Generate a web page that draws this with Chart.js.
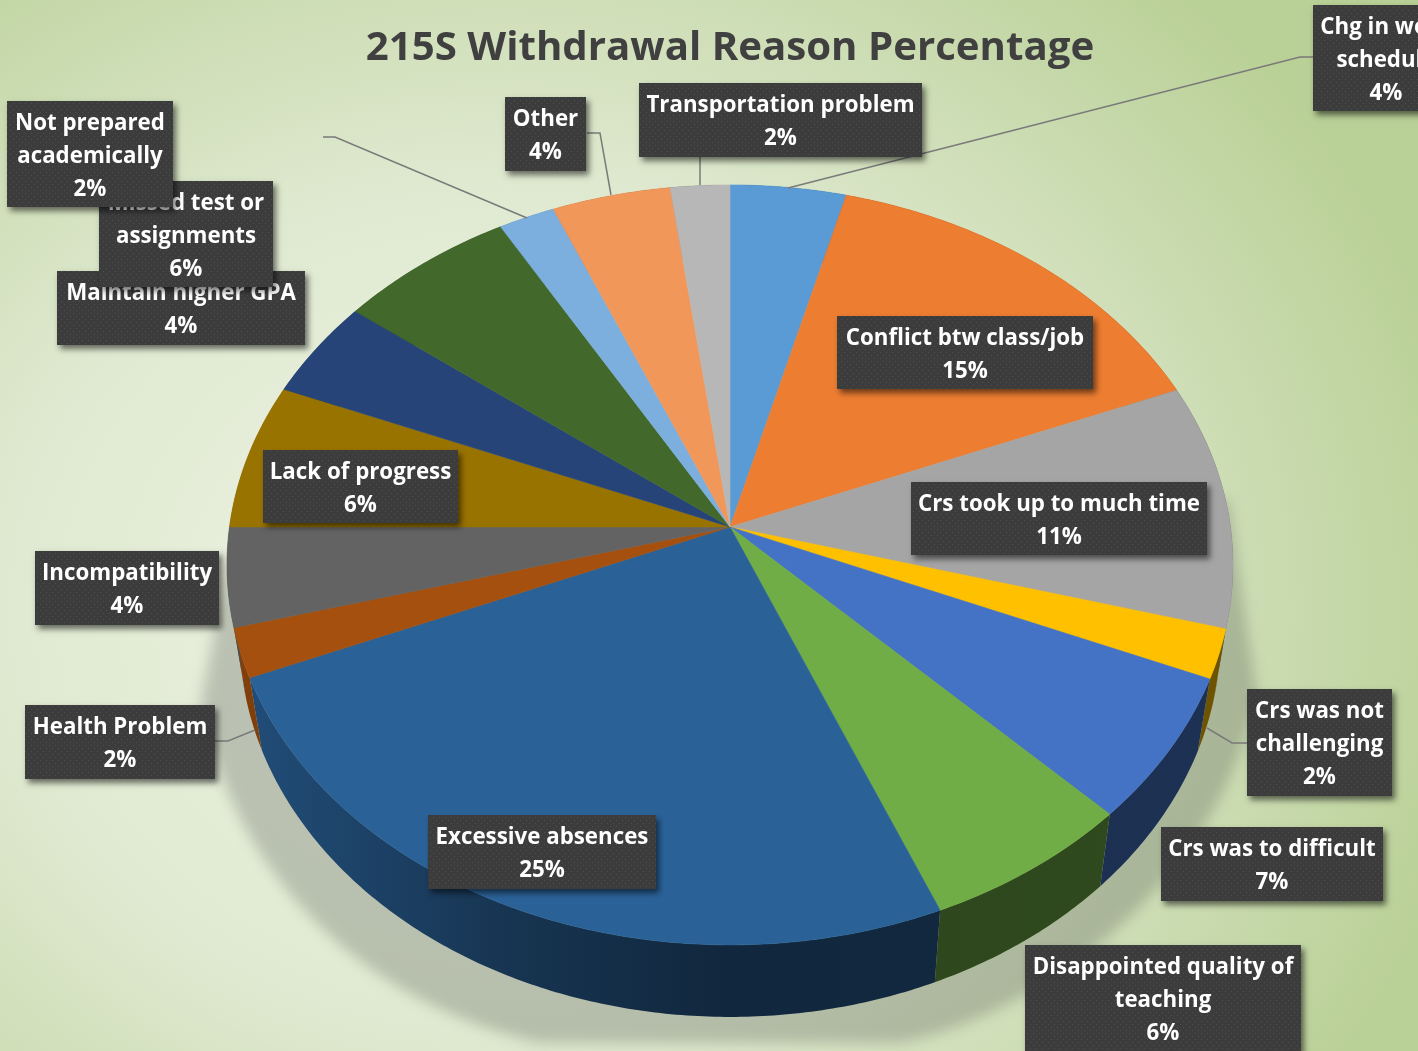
<!DOCTYPE html>
<html lang="en">
<head>
  <meta charset="UTF-8" />
  <title>215S Withdrawal Reason Percentage</title>
  <script src="https://cdn.jsdelivr.net/npm/chart.js"></script>
  <style>
    html, body { margin: 0; padding: 0; width: 1418px; height: 1051px; overflow: hidden; }
    body { background: radial-gradient(ellipse 1000px 860px at 500px 610px, #f1f5e8 0%, #dfe9d0 50%, #b9d096 100%); }
    canvas { display: block; }
  </style>
</head>
<body>
<canvas id="pie" width="1418" height="1051"></canvas>
<script>
const categories = ['Chg in work\nschedule', 'Conflict btw class/job', 'Crs took up to much time', 'Crs was not\nchallenging',
  'Crs was to difficult', 'Disappointed quality of\nteaching', 'Excessive absences', 'Health Problem', 'Incompatibility',
  'Lack of progress', 'Maintain higher GPA', 'Missed test or\nassignments', 'Not prepared\nacademically', 'Other', 'Transportation problem'];
const values = [4.1, 14.75, 10.4, 2.1, 6.2, 6.23, 24.92, 2.1, 4.2, 6.2, 4.2, 6.3, 2.0, 4.2, 2.1];
const percents = ['4%', '15%', '11%', '2%', '7%', '6%', '25%', '2%', '4%', '6%', '4%', '6%', '2%', '4%', '2%'];
const colors = ['#5b9bd5', '#ed7d31', '#a5a5a5', '#ffc000', '#4472c4', '#70ad47', '#2a6298', '#a5500f', '#636363',
  '#997300', '#264478', '#43682b', '#7cafdd', '#f1975a', '#b7b7b7'];

// label boxes: x, y, w, h
const boxes = [[1313, 5, 146, 106], [837, 316, 256, 73], [911, 482, 296, 73], [1247, 689, 145, 107],
  [1161, 827, 222, 74], [1025, 945, 276, 110], [428, 815, 228, 74], [25, 705, 190, 74], [35, 551, 184, 74],
  [263, 450, 195, 73], [57, 271, 248, 74], [99, 181, 174, 106], [7, 101, 166, 106], [505, 97, 81, 74], [639, 83, 283, 74]];

// leader lines, only for the labels outside the pie
const leaders = [
  [[1313, 57], [1300, 57], [788, 188]],
  [[1247, 743], [1232, 743], [1207, 728]],
  [[215, 741], [228, 741], [255, 730]],
  [[323, 137], [335, 137], [527, 218]],
  [[587, 133], [600, 133], [611, 195]],
  [[700, 157], [700, 185]]
];

// the pie is seen in perspective: the hub sits above the middle of the rim
const persp = 0.1, radX = 500.5, radY = 376.2, depth = 72, bottomScale = 0.975;

function rimPoint(el, angle, down) {
  const u = Math.cos(angle), v = Math.sin(angle), w = 1 - persp * v;
  let x = radX * u / w, y = radY * v / w;
  if (down) { x *= bottomScale; y += depth; }
  return [el.x + x, el.y + y];
}

function shade(hex, f) {
  const n = parseInt(hex.slice(1), 16);
  return `rgb(${Math.round((n >> 16) * f)},${Math.round(((n >> 8) & 255) * f)},${Math.round((n & 255) * f)})`;
}

// top face of each slice
Chart.ArcElement.prototype.draw = function (ctx) {
  ctx.save();
  ctx.beginPath();
  ctx.moveTo(this.x, this.y);
  for (let a = this.startAngle; a < this.endAngle; a += 0.01) ctx.lineTo(...rimPoint(this, a));
  ctx.lineTo(...rimPoint(this, this.endAngle));
  ctx.closePath();
  ctx.fillStyle = this.options.backgroundColor;
  ctx.strokeStyle = this.options.backgroundColor;
  ctx.lineWidth = 0.6;
  ctx.fill();
  ctx.stroke();
  ctx.restore();
};

const dotPattern = (() => {
  const c = document.createElement('canvas');
  c.width = c.height = 6;
  const p = c.getContext('2d');
  p.fillStyle = '#3c3c3c';
  p.fillRect(0, 0, 6, 6);
  p.fillStyle = '#4e4e4e';
  p.fillRect(1, 1, 1, 1);
  p.fillRect(4, 4, 1, 1);
  return c;
})();

const pie3d = {
  id: 'pie3d',
  beforeDatasetsDraw(chart) {
    const ctx = chart.ctx;
    // soft shadow under the pie
    ctx.save();
    ctx.filter = 'blur(7px)';
    ctx.fillStyle = 'rgba(70,75,70,0.27)';
    ctx.beginPath();
    ctx.moveTo(1228, 500);
    ctx.lineTo(1256, 690);
    ctx.bezierCurveTo(1230, 860, 1060, 1010, 900, 1043);
    ctx.lineTo(540, 1043);
    ctx.bezierCurveTo(350, 1000, 230, 860, 201, 703);
    ctx.lineTo(228, 560);
    ctx.closePath();
    ctx.fill();
    ctx.restore();

    // side wall of each slice
    chart.getDatasetMeta(0).data.forEach((el, i) => {
      const grad = ctx.createLinearGradient(230, 0, 1230, 0);
      grad.addColorStop(0, shade(colors[i], 0.8));
      grad.addColorStop(0.3, shade(colors[i], 0.52));
      grad.addColorStop(0.5, shade(colors[i], 0.4));
      grad.addColorStop(1, shade(colors[i], 0.43));
      const top = [], bottom = [];
      for (let a = el.startAngle; a < el.endAngle; a += 0.01) {
        top.push(rimPoint(el, a));
        bottom.push(rimPoint(el, a, true));
      }
      top.push(rimPoint(el, el.endAngle));
      bottom.push(rimPoint(el, el.endAngle, true));
      ctx.beginPath();
      top.forEach((p, n) => n ? ctx.lineTo(...p) : ctx.moveTo(...p));
      bottom.reverse().forEach(p => ctx.lineTo(...p));
      ctx.closePath();
      ctx.fillStyle = grad;
      ctx.fill();
    });
  },
  afterDatasetsDraw(chart) {
    const ctx = chart.ctx;
    ctx.save();
    ctx.strokeStyle = '#7a7a7a';
    ctx.lineWidth = 1.5;
    leaders.forEach(line => {
      ctx.beginPath();
      line.forEach((p, n) => n ? ctx.lineTo(...p) : ctx.moveTo(...p));
      ctx.stroke();
    });
    const pattern = ctx.createPattern(dotPattern, 'repeat');
    ctx.font = '700 22.3px "Open Sans"';
    ctx.textAlign = 'center';
    ctx.textBaseline = 'middle';
    categories.forEach((name, i) => {
      const [x, y, w, h] = boxes[i];
      ctx.save();
      ctx.shadowColor = 'rgba(0,0,0,0.55)';
      ctx.shadowBlur = 6;
      ctx.shadowOffsetX = 3;
      ctx.shadowOffsetY = 4;
      ctx.fillStyle = '#3c3c3c';
      ctx.fillRect(x, y, w, h);
      ctx.restore();
      ctx.fillStyle = pattern;
      ctx.fillRect(x, y, w, h);
      ctx.fillStyle = '#ffffff';
      const lines = name.split('\n').concat(percents[i]);
      lines.forEach((t, n) => ctx.fillText(t, x + w / 2, y + 23 + n * 33));
    });
    ctx.restore();
  }
};

new Chart(document.getElementById('pie'), {
  type: 'pie',
  data: {
    labels: categories,
    datasets: [{ data: values, backgroundColor: colors, borderWidth: 0 }]
  },
  options: {
    responsive: false,
    animation: false,
    layout: { padding: { left: 42, right: 0, top: 0, bottom: 69.4 } },
    plugins: {
      legend: { display: false },
      tooltip: { enabled: false },
      title: {
        display: true,
        fullSize: false,
        text: '215S Withdrawal Reason Percentage',
        color: '#404040',
        font: { family: '"Open Sans"', size: 40.2, weight: '700', lineHeight: 1.2 },
        padding: { top: 24, bottom: 0 }
      }
    }
  },
  plugins: [pie3d]
});
</script>
</body>
</html>
